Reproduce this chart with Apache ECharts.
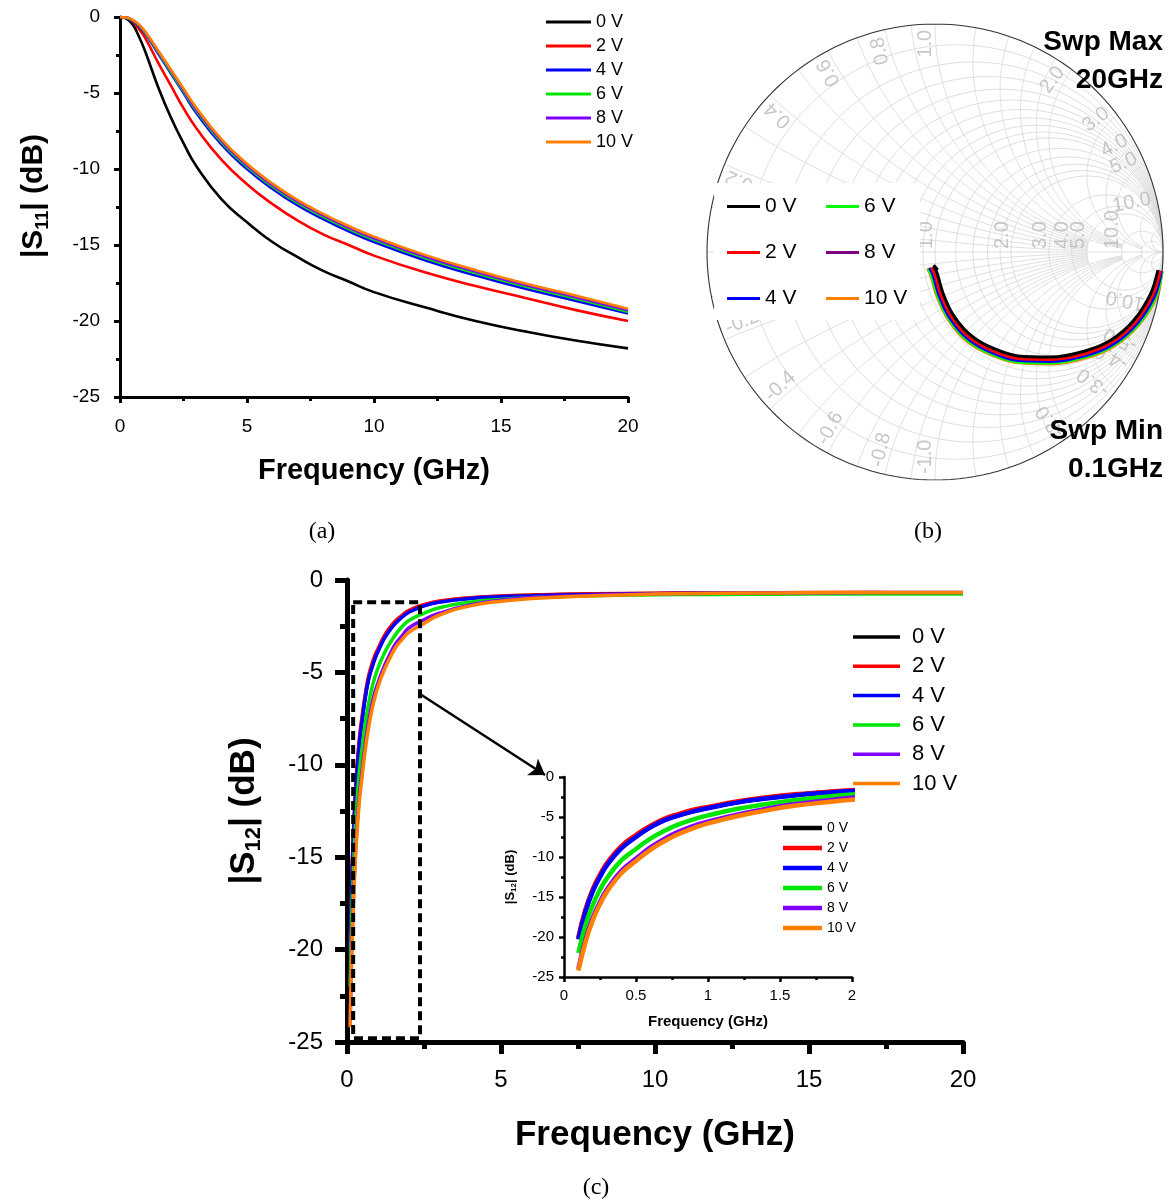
<!DOCTYPE html>
<html>
<head>
<meta charset="utf-8">
<script src="https://cdn.jsdelivr.net/npm/echarts@6/dist/echarts.min.js"></script>
<style>
  html, body { margin: 0; padding: 0; background: #ffffff; }
  #chart { width: 1169px; height: 1202px; }
</style>
</head>
<body>
<div id="chart"></div>
<script>
// ---------- series names and colours ----------
const voltages = ['0 V', '2 V', '4 V', '6 V', '8 V', '10 V'];
const colorsMain = ['#000000', '#ff0000', '#0000ff', '#00e600', '#8000ff', '#ff8000'];
const colorsSmith = ['#000000', '#ff0000', '#0000ff', '#00ff00', '#800080', '#ff8000'];

// ---------- (a) |S11| in dB versus frequency (GHz) ----------
const freqS11 = [0, 0.25, 0.5, 0.75, 1, 1.5, 2, 2.5, 3, 4, 5, 6, 7, 8, 9, 10, 12, 14, 16, 18, 20];
const s11_0V  = [0, -0.1, -0.5, -1.3, -2.3, -4.6, -6.6, -8.3, -9.8, -12.0, -13.5, -14.8, -15.8, -16.7, -17.4, -18.1, -19.1, -20.0, -20.7, -21.3, -21.8];
const s11_2V  = [0, -0.05, -0.3, -0.8, -1.4, -3.0, -4.5, -6.0, -7.3, -9.4, -11.0, -12.3, -13.4, -14.3, -15.0, -15.7, -16.8, -17.7, -18.5, -19.3, -20.0];
const s11_4V  = [0, -0.04, -0.25, -0.6, -1.1, -2.4, -3.7, -5.0, -6.3, -8.4, -10.0, -11.3, -12.4, -13.3, -14.1, -14.8, -16.0, -17.0, -17.9, -18.7, -19.5];
const s11_6V  = [0, -0.04, -0.23, -0.55, -1.05, -2.3, -3.6, -4.9, -6.15, -8.25, -9.85, -11.15, -12.25, -13.15, -13.95, -14.65, -15.85, -16.85, -17.75, -18.55, -19.4];
const s11_8V  = [0, -0.03, -0.22, -0.52, -1.0, -2.25, -3.5, -4.8, -6.05, -8.15, -9.75, -11.05, -12.15, -13.05, -13.85, -14.55, -15.75, -16.75, -17.65, -18.45, -19.3];
const s11_10V = [0, -0.03, -0.2, -0.5, -0.97, -2.2, -3.45, -4.7, -5.95, -8.05, -9.65, -10.95, -12.05, -12.95, -13.75, -14.45, -15.65, -16.65, -17.55, -18.35, -19.2];
const s11Sets = [s11_0V, s11_2V, s11_4V, s11_6V, s11_8V, s11_10V];

// ---------- (b) reflection coefficient trajectories, [Re, Im], 0.1 -> 20 GHz ----------
const gamma_0V  = [[0.978,-0.079],[0.947,-0.180],[0.873,-0.298],[0.772,-0.386],[0.658,-0.434],[0.509,-0.461],[0.364,-0.456],[0.232,-0.412],[0.145,-0.355],[0.075,-0.268],[0.035,-0.180],[0.009,-0.092],[-0.004,-0.066],[0.012,-0.078],[-0.006,-0.058],[0.004,-0.072]];
const gamma_2V  = [[0.989,-0.082],[0.957,-0.185],[0.881,-0.306],[0.778,-0.395],[0.662,-0.445],[0.509,-0.471],[0.361,-0.467],[0.227,-0.422],[0.138,-0.364],[0.066,-0.274],[0.025,-0.185],[-0.002,-0.095],[-0.015,-0.068],[0.000,-0.085],[-0.012,-0.074]];
const gamma_4V  = [[0.993,-0.083],[0.965,-0.189],[0.888,-0.311],[0.783,-0.403],[0.665,-0.453],[0.510,-0.480],[0.359,-0.475],[0.223,-0.429],[0.132,-0.370],[0.059,-0.279],[0.017,-0.188],[-0.010,-0.097],[-0.024,-0.070]];
const gamma_6V  = [[0.996,-0.085],[0.971,-0.191],[0.893,-0.316],[0.786,-0.408],[0.667,-0.459],[0.510,-0.487],[0.357,-0.482],[0.219,-0.435],[0.127,-0.375],[0.054,-0.283],[0.011,-0.191],[-0.017,-0.099],[-0.030,-0.071]];
const gamma_8V  = [[0.995,-0.084],[0.968,-0.190],[0.891,-0.313],[0.785,-0.406],[0.666,-0.456],[0.510,-0.484],[0.358,-0.479],[0.221,-0.432],[0.130,-0.372],[0.057,-0.281],[0.014,-0.190],[-0.013,-0.098],[-0.027,-0.071]];
const gamma_10V = [[0.995,-0.087],[0.974,-0.193],[0.895,-0.318],[0.788,-0.411],[0.668,-0.463],[0.511,-0.491],[0.356,-0.485],[0.217,-0.438],[0.124,-0.378],[0.051,-0.285],[0.008,-0.193],[-0.020,-0.100],[-0.033,-0.072]];
const gammaSets = [gamma_0V, gamma_2V, gamma_4V, gamma_6V, gamma_8V, gamma_10V];

// Smith chart grid: constant-resistance circles and constant-reactance arcs
// (each arc is drawn out to the resistance given next to it)
const smithGridR = [0.1, 0.2, 0.3, 0.4, 0.5, 0.6, 0.7, 0.8, 0.9, 1.0, 1.2, 1.4, 1.6, 1.8, 2.0, 3.0, 4.0, 5.0, 10.0, 20.0];
const smithGridX = [0.1, 0.2, 0.3, 0.4, 0.5, 0.6, 0.7, 0.8, 0.9, 1.0, 1.2, 1.4, 1.6, 1.8, 2.0, 3.0, 4.0, 5.0, 10.0, 20.0];
const smithArcEnd = [5, 5, 5, 5, 5, 5, 5, 5, 5, 10, 10, 10, 10, 10, 10, 20, 20, 20, Infinity, Infinity];
const smithLabelR = [0.2, 0.4, 0.6, 0.8, 1.0, 2.0, 3.0, 4.0, 5.0, 10.0];
const smithLabelX = [0.2, 0.4, 0.6, 0.8, 1.0, 2.0, 3.0, 4.0, 5.0, 10.0];

// ---------- (c) |S12| in dB versus frequency (GHz) ----------
const freqS12 = [0.1, 0.15, 0.2, 0.25, 0.3, 0.4, 0.5, 0.6, 0.7, 0.8, 0.9, 1.0, 1.2, 1.4, 1.6, 1.8, 2.0, 2.5, 3, 4, 5, 6, 8, 10, 12, 14, 16, 18, 20];
const s12_0V  = [-20.2, -16.7, -14.2, -12.4, -10.9, -8.8, -7.45, -6.25, -5.35, -4.75, -4.25, -3.85, -3.15, -2.65, -2.25, -1.95, -1.72, -1.38, -1.18, -0.98, -0.88, -0.83, -0.76, -0.73, -0.71, -0.69, -0.69, -0.7, -0.72];
const s12_2V  = [-20.0, -16.5, -14.0, -12.2, -10.7, -8.6, -7.25, -6.1, -5.2, -4.6, -4.1, -3.75, -3.05, -2.55, -2.17, -1.9, -1.65, -1.33, -1.14, -0.96, -0.86, -0.81, -0.75, -0.72, -0.7, -0.69, -0.68, -0.69, -0.7];
const s12_4V  = [-20.3, -16.8, -14.3, -12.5, -11.0, -8.9, -7.5, -6.3, -5.4, -4.8, -4.3, -3.9, -3.2, -2.7, -2.3, -2.0, -1.75, -1.4, -1.2, -1.0, -0.9, -0.85, -0.78, -0.75, -0.72, -0.7, -0.7, -0.7, -0.72];
const s12_6V  = [-22.0, -18.5, -16.0, -14.1, -12.6, -10.4, -9.0, -7.7, -6.7, -5.9, -5.3, -4.8, -4.0, -3.4, -2.9, -2.5, -2.2, -1.8, -1.5, -1.2, -1.05, -0.95, -0.85, -0.8, -0.78, -0.77, -0.76, -0.76, -0.76];
const s12_8V  = [-24.0, -20.3, -17.6, -15.6, -14.0, -11.7, -10.2, -8.8, -7.7, -6.8, -6.1, -5.6, -4.7, -4.0, -3.4, -3.0, -2.6, -2.15, -1.8, -1.35, -1.1, -0.95, -0.82, -0.75, -0.72, -0.7, -0.69, -0.68, -0.68];
const s12_10V = [-24.2, -20.6, -17.9, -15.9, -14.3, -12.0, -10.5, -9.1, -8.0, -7.1, -6.4, -5.8, -4.9, -4.2, -3.6, -3.2, -2.85, -2.35, -1.9, -1.4, -1.15, -1.0, -0.85, -0.76, -0.72, -0.7, -0.68, -0.67, -0.67];
const s12Sets = [s12_0V, s12_2V, s12_4V, s12_6V, s12_8V, s12_10V];

// dashed frame around the low-frequency region and the pointer to the inset
const zoomBox = [[0.2, -1.2], [2.37, -1.2], [2.37, -24.8], [0.2, -24.8], [0.2, -1.2]];
const pointerFrom = [2.37, -6.17];
const pointerTo = [6.43, -10.55];

// ---------- helpers ----------
const FONT = 'Liberation Sans';
const zip = (xs, ys) => xs.map((x, i) => [x, ys[i]]);

function resistanceCircle(r) {
  const c = r / (1 + r), rad = 1 / (1 + r), pts = [];
  for (let a = 0; a <= 360; a += 2) {
    const t = a * Math.PI / 180;
    pts.push([c + rad * Math.cos(t), rad * Math.sin(t)]);
  }
  return pts;
}
function reactanceArc(x, rEnd) {
  const pts = [];
  const tEnd = isFinite(rEnd) ? Math.atan(rEnd) : Math.PI / 2 * 0.9995;
  for (let i = 0; i <= 200; i++) {
    const r = Math.tan(i / 200 * tEnd);
    const d = (r + 1) * (r + 1) + x * x;
    pts.push([(r * r + x * x - 1) / d, 2 * x / d]);
  }
  if (!isFinite(rEnd)) pts.push([1, 0]);
  return pts;
}

function valueAxis(o) {
  return {
    type: 'value', gridIndex: o.grid, min: o.min, max: o.max, interval: o.interval,
    name: o.name, nameLocation: 'middle', nameGap: o.nameGap,
    nameTextStyle: {
      fontFamily: FONT, fontSize: o.nameSize, fontWeight: 'bold', color: '#000',
      lineHeight: Math.round(o.nameSize * 1.2),
      padding: o.namePad || 0,
      rich: o.rich || {}
    },
    axisLine: { show: true, onZero: false, lineStyle: { color: '#000', width: o.lw } },
    axisTick: { show: true, inside: false, length: o.tl, lineStyle: { color: '#000', width: o.lw } },
    minorTick: { show: true, splitNumber: 2, length: o.mtl, lineStyle: { color: '#000', width: o.lw } },
    splitLine: { show: false },
    minorSplitLine: { show: false },
    axisLabel: { fontFamily: FONT, fontSize: o.fs, color: '#000', margin: o.margin }
  };
}
function subRich(size, lh) {
  return { sub: { fontFamily: FONT, fontSize: size, fontWeight: 'bold', color: '#000', verticalAlign: 'bottom', lineHeight: lh } };
}

// ---------- Smith chart grid / labels ----------
const smithGridLines = [];
smithGridR.forEach(r => smithGridLines.push({ coords: resistanceCircle(r) }));
smithGridX.forEach((x, i) => {
  smithGridLines.push({ coords: reactanceArc(x, smithArcEnd[i]) });
  smithGridLines.push({ coords: reactanceArc(-x, smithArcEnd[i]) });
});
smithGridLines.push({ coords: [[-1, 0], [1, 0]] });

const PX = 1 / 228; // one pixel in reflection-coefficient units
const smithLabels = [];
smithLabelR.forEach(r => {
  const g = (r - 1) / (r + 1);
  smithLabels.push({ value: [g - 9 * PX, 3 * PX], label: { formatter: r.toFixed(1), rotate: 90, align: 'left' } });
});
smithLabelX.forEach(x => {
  [x, -x].forEach(v => {
    const d = v * v + 1;
    const th = Math.atan2(2 * v / d, (v * v - 1) / d);
    const up = v > 0;
    const a = up ? th + 0.042 : th - 0.042;
    const R = 0.975;
    smithLabels.push({
      value: [R * Math.cos(a), R * Math.sin(a)],
      label: { formatter: v.toFixed(1), rotate: up ? th * 180 / Math.PI : th * 180 / Math.PI + 180, align: up ? 'right' : 'left' }
    });
  });
});

// ---------- series ----------
const series = [];

// (a)
s11Sets.forEach((ys, i) => series.push({
  type: 'line', name: voltages[i], xAxisIndex: 0, yAxisIndex: 0,
  data: zip(freqS11, ys), showSymbol: false, smooth: 0.5,
  lineStyle: { color: colorsMain[i], width: 2.6 }, itemStyle: { color: colorsMain[i] }, z: 2
}));

// (b) grid, outline, labels
series.push({
  type: 'lines', coordinateSystem: 'cartesian2d', xAxisIndex: 1, yAxisIndex: 1,
  polyline: true, silent: true, data: smithGridLines,
  lineStyle: { color: '#dadada', width: 0.9, opacity: 1 }, z: 1
});
series.push({
  type: 'lines', coordinateSystem: 'cartesian2d', xAxisIndex: 1, yAxisIndex: 1,
  polyline: true, silent: true, data: [{ coords: resistanceCircle(0) }],
  lineStyle: { color: '#333333', width: 1.1, opacity: 1 }, z: 1
});
series.push({
  type: 'scatter', xAxisIndex: 1, yAxisIndex: 1, silent: true,
  symbolSize: 1, itemStyle: { color: 'rgba(0,0,0,0)' }, data: smithLabels,
  label: { show: true, position: 'inside', fontFamily: FONT, fontSize: 20, color: '#b9b9b9', verticalAlign: 'middle' },
  z: 2
});
// (b) trajectories, 0 V drawn last so it sits on top
for (let i = gammaSets.length - 1; i >= 0; i--) {
  series.push({
    type: 'line', name: voltages[i], xAxisIndex: 1, yAxisIndex: 1,
    data: gammaSets[i], showSymbol: false, smooth: 0.3,
    lineStyle: { color: colorsSmith[i], width: 3 }, itemStyle: { color: colorsSmith[i] }, z: 3
  });
}

// (c) main
s12Sets.forEach((ys, i) => series.push({
  type: 'line', name: voltages[i], xAxisIndex: 2, yAxisIndex: 2,
  data: zip(freqS12, ys), showSymbol: false, smooth: 0.5,
  lineStyle: { color: colorsMain[i], width: 3.5 }, itemStyle: { color: colorsMain[i] }, z: 2
}));
series.push({
  type: 'line', name: 'frame', xAxisIndex: 2, yAxisIndex: 2, data: zoomBox,
  showSymbol: false, silent: true,
  lineStyle: { color: '#000', width: 4, type: [9, 5] }, z: 3,
  markLine: {
    silent: true, symbol: ['none', 'arrow'], symbolSize: 15, label: { show: false },
    lineStyle: { color: '#000', width: 2.5, type: 'solid' },
    data: [[{ coord: pointerFrom }, { coord: pointerTo }]]
  }
});

// (c) inset
s12Sets.forEach((ys, i) => series.push({
  type: 'line', name: voltages[i], xAxisIndex: 3, yAxisIndex: 3,
  data: zip(freqS12, ys), showSymbol: false, smooth: 0.5,
  lineStyle: { color: colorsMain[i], width: 4.5 }, itemStyle: { color: colorsMain[i] }, z: 2
}));

// ---------- legends ----------
function legend(o) {
  return {
    orient: 'vertical', left: o.left, top: o.top, padding: 0, icon: 'rect',
    itemWidth: o.iw, itemHeight: o.ih, itemGap: o.gap, selectedMode: false, z: 6,
    textStyle: { fontFamily: FONT, fontSize: o.fs, color: '#000', lineHeight: o.fs, padding: o.tp || 0 },
    data: o.idx.map(i => ({ name: voltages[i], itemStyle: { color: o.colors[i] } }))
  };
}

const option = {
  animation: false,
  backgroundColor: '#ffffff',
  grid: [
    { left: 120, top: 17, width: 508, height: 380 },
    { left: 707, top: 24, width: 456, height: 456 },
    { left: 347, top: 580, width: 616, height: 462 },
    { left: 564, top: 777, width: 288, height: 200 }
  ],
  xAxis: [
    valueAxis({ grid: 0, min: 0, max: 20, interval: 5, name: 'Frequency (GHz)', nameGap: 56, nameSize: 29, lw: 3, tl: 6, mtl: 4, fs: 19, margin: 20 }),
    { type: 'value', gridIndex: 1, min: -1, max: 1, show: false },
    valueAxis({ grid: 2, min: 0, max: 20, interval: 5, name: 'Frequency (GHz)', nameGap: 72, nameSize: 35, lw: 5, tl: 12, mtl: 7, fs: 24, margin: 26 }),
    valueAxis({ grid: 3, min: 0, max: 2, interval: 0.5, name: 'Frequency (GHz)', nameGap: 36, nameSize: 15, lw: 2.5, tl: 5, mtl: 3, fs: 15, margin: 11 })
  ],
  yAxis: [
    valueAxis({ grid: 0, min: -25, max: 0, interval: 5, name: '|S{sub|11}| (dB)', nameGap: 68, nameSize: 30, namePad: [0, 0, 0, 22], rich: subRich(18, 36), lw: 3, tl: 6, mtl: 4, fs: 19, margin: 20 }),
    { type: 'value', gridIndex: 1, min: -1, max: 1, show: false },
    valueAxis({ grid: 2, min: -25, max: 0, interval: 5, name: '|S{sub|12}| (dB)', nameGap: 82, nameSize: 35, rich: subRich(22, 42), lw: 5, tl: 12, mtl: 7, fs: 24, margin: 24 }),
    valueAxis({ grid: 3, min: -25, max: 0, interval: 5, name: '|S{sub|12}| (dB)', nameGap: 46, nameSize: 13, rich: subRich(8, 16), lw: 2.5, tl: 5, mtl: 3, fs: 15, margin: 10 })
  ],
  legend: [
    legend({ left: 546, top: 13, iw: 45, ih: 3, gap: 6, fs: 18, idx: [0, 1, 2, 3, 4, 5], colors: colorsMain }),
    legend({ left: 727, top: 196, iw: 33, ih: 3, gap: 25, fs: 21, idx: [0, 1, 2], colors: colorsSmith }),
    legend({ left: 826, top: 196, iw: 33, ih: 3, gap: 25, fs: 21, idx: [3, 4, 5], colors: colorsSmith }),
    legend({ left: 853, top: 626, iw: 47, ih: 3.5, gap: 7.3, fs: 22, tp: [0, 0, 0, 7], idx: [0, 1, 2, 3, 4, 5], colors: colorsMain }),
    legend({ left: 783, top: 821, iw: 39, ih: 4.5, gap: 6, fs: 14, idx: [0, 1, 2, 3, 4, 5], colors: colorsMain })
  ],
  graphic: [
    { type: 'rect', z: 5, silent: true, shape: { x: 714, y: 183, width: 206, height: 137 }, style: { fill: '#ffffff' } },
    { type: 'text', z: 7, x: 1163, y: 42, style: { text: 'Swp Max', font: 'bold 28px "Liberation Sans"', fill: '#000', align: 'right', verticalAlign: 'middle', textAlign: 'right', textVerticalAlign: 'middle' } },
    { type: 'text', z: 7, x: 1163, y: 80, style: { text: '20GHz', font: 'bold 28px "Liberation Sans"', fill: '#000', align: 'right', verticalAlign: 'middle', textAlign: 'right', textVerticalAlign: 'middle' } },
    { type: 'text', z: 7, x: 1163, y: 431, style: { text: 'Swp Min', font: 'bold 28px "Liberation Sans"', fill: '#000', align: 'right', verticalAlign: 'middle', textAlign: 'right', textVerticalAlign: 'middle' } },
    { type: 'text', z: 7, x: 1163, y: 469, style: { text: '0.1GHz', font: 'bold 28px "Liberation Sans"', fill: '#000', align: 'right', verticalAlign: 'middle', textAlign: 'right', textVerticalAlign: 'middle' } },
    { type: 'text', z: 7, x: 322, y: 532, style: { text: '(a)', font: '24px "Liberation Serif"', fill: '#000', align: 'center', verticalAlign: 'middle', textAlign: 'center', textVerticalAlign: 'middle' } },
    { type: 'text', z: 7, x: 928, y: 532, style: { text: '(b)', font: '24px "Liberation Serif"', fill: '#000', align: 'center', verticalAlign: 'middle', textAlign: 'center', textVerticalAlign: 'middle' } },
    { type: 'text', z: 7, x: 596, y: 1188, style: { text: '(c)', font: '24px "Liberation Serif"', fill: '#000', align: 'center', verticalAlign: 'middle', textAlign: 'center', textVerticalAlign: 'middle' } }
  ],
  series: series
};

const chart = echarts.init(document.getElementById('chart'), null, { renderer: 'canvas' });
chart.setOption(option);
</script>
</body>
</html>
